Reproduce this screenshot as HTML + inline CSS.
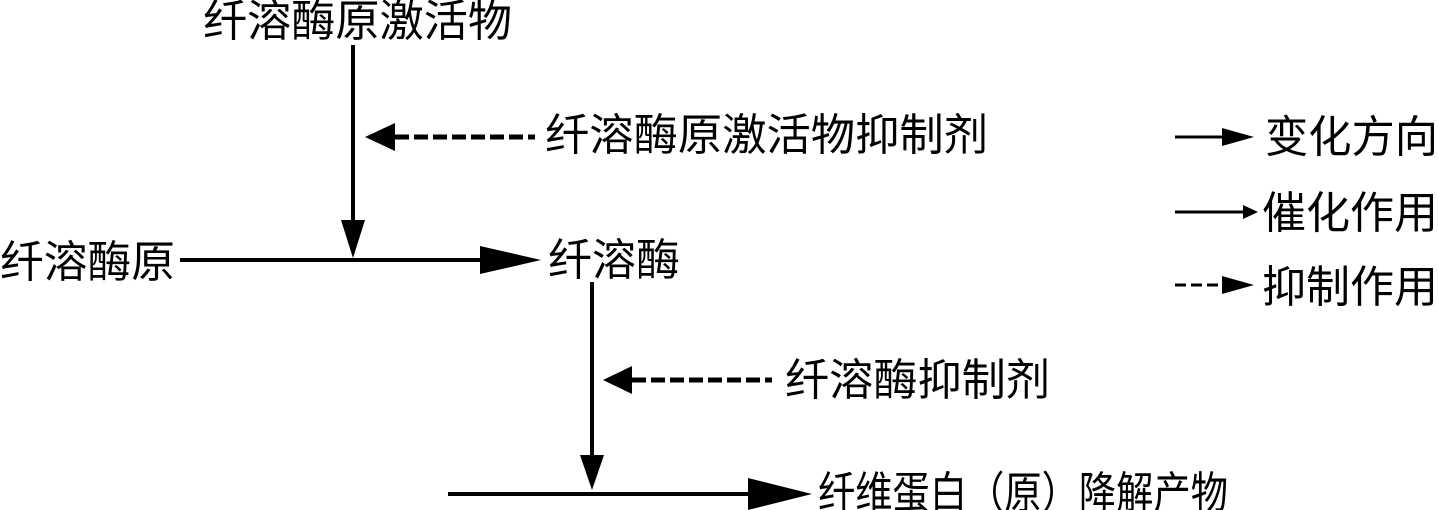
<!DOCTYPE html>
<html><head><meta charset="utf-8"><style>
html,body{margin:0;padding:0;background:#fff;}
svg{display:block;}
text{font-family:"Liberation Sans","WenQuanYi Zen Hei","Noto Sans CJK SC",sans-serif;fill:#000;}
</style></head><body>
<svg width="1438" height="510" viewBox="0 0 1438 510" xmlns="http://www.w3.org/2000/svg">
<g font-size="44">
<text x="203" y="36" textLength="309" lengthAdjust="spacingAndGlyphs">纤溶酶原激活物</text>
<text x="545" y="150" textLength="443" lengthAdjust="spacingAndGlyphs">纤溶酶原激活物抑制剂</text>
<text x="0" y="277" textLength="175" lengthAdjust="spacingAndGlyphs">纤溶酶原</text>
<text x="548" y="275" textLength="132" lengthAdjust="spacingAndGlyphs">纤溶酶</text>
<text x="785" y="395" textLength="265" lengthAdjust="spacingAndGlyphs">纤溶酶抑制剂</text>
<text x="818" y="508" textLength="410" lengthAdjust="spacingAndGlyphs">纤维蛋白（原）降解产物</text>
<text x="1265" y="152" textLength="173" lengthAdjust="spacingAndGlyphs">变化方向</text>
<text x="1262" y="228" textLength="176" lengthAdjust="spacingAndGlyphs">催化作用</text>
<text x="1262" y="302" textLength="176" lengthAdjust="spacingAndGlyphs">抑制作用</text>
</g>
<g stroke="#000" stroke-width="4" fill="none">
<line x1="353" y1="45" x2="353" y2="225"/>
<line x1="180" y1="260" x2="485" y2="260"/>
<line x1="592" y1="282" x2="592" y2="458"/>
<line x1="448" y1="494" x2="752" y2="494"/>
<line x1="395" y1="137" x2="535" y2="137" stroke-width="5" stroke-dasharray="14,5"/>
<line x1="632" y1="380" x2="772" y2="380" stroke-width="5" stroke-dasharray="14,5"/>
<line x1="1175" y1="137" x2="1225" y2="137" stroke-width="3"/>
<line x1="1175" y1="212" x2="1245" y2="212" stroke-width="3"/>
<line x1="1175" y1="285" x2="1225" y2="285" stroke-width="3" stroke-dasharray="11,5"/>
</g>
<g fill="#000">
<polygon points="341,220 365,220 353,258"/>
<polygon points="480,246 480,274 541,260"/>
<polygon points="580,455 604,455 592,490"/>
<polygon points="748,478 748,510 812,494"/>
<polygon points="365,137 395,123 395,151"/>
<polygon points="603,380 632,366 632,394"/>
<polygon points="1222,128 1222,146 1254,137"/>
<polygon points="1243,205 1243,219 1258,212"/>
<polygon points="1222,276 1222,294 1254,285"/>
</g>
</svg>
</body></html>
